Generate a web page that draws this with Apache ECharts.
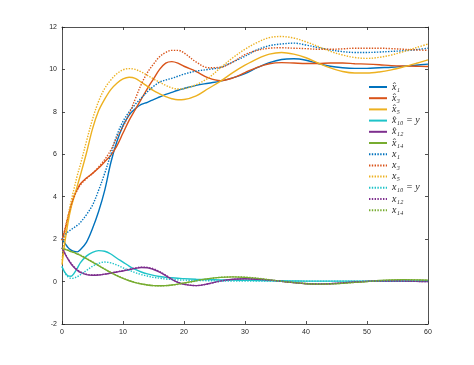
<!DOCTYPE html>
<html>
<head>
<meta charset="utf-8">
<script src="https://cdn.jsdelivr.net/npm/echarts@6/dist/echarts.min.js"></script>
<style>
  html, body { margin: 0; padding: 0; background: #fff; }
  #chart { width: 474px; height: 365px; }
</style>
</head>
<body>
<div id="chart"></div>
<script>
// time samples
var t = [0, 0.5, 1, 1.5, 2, 2.5, 3, 4, 5, 6, 7, 8, 9, 10, 11, 12, 13, 14, 15, 16, 17, 18, 19, 20,
  22, 24, 26, 28, 30, 32, 34, 36, 38, 40, 42, 44, 46, 48, 50, 52, 54, 56, 58, 60]

// estimates (solid)
var xh1 = [2.0, 1.8, 1.6, 1.48, 1.42, 1.4, 1.5, 1.85, 2.5, 3.3, 4.3, 5.6, 6.6, 7.35, 7.85, 8.15, 8.35, 8.45, 8.58, 8.7, 8.82, 8.92, 9.02, 9.1,
  9.25, 9.35, 9.45, 9.6, 9.8, 10.08, 10.32, 10.47, 10.5, 10.43, 10.28, 10.15, 10.08, 10.05, 10.05, 10.08, 10.1, 10.15, 10.2, 10.25]
var xh3 = [1.95, 2.45, 3.05, 3.6, 4.05, 4.35, 4.6, 4.88, 5.1, 5.35, 5.65, 5.95, 6.4, 7.0, 7.6, 8.1, 8.6, 9.1, 9.55, 10.0, 10.3, 10.37, 10.3, 10.15,
  9.9, 9.6, 9.47, 9.6, 9.85, 10.1, 10.27, 10.32, 10.3, 10.28, 10.28, 10.3, 10.3, 10.27, 10.25, 10.22, 10.18, 10.16, 10.15, 10.14]
var xh5 = [0.8, 1.9, 2.8, 3.5, 4.0, 4.5, 5.0, 6.05, 7.2, 8.05, 8.6, 9.05, 9.35, 9.55, 9.63, 9.58, 9.4, 9.2, 9.0, 8.85, 8.72, 8.62, 8.57, 8.58,
  8.75, 9.1, 9.45, 9.85, 10.2, 10.5, 10.72, 10.8, 10.72, 10.55, 10.3, 10.07, 9.9, 9.83, 9.83, 9.88, 9.98, 10.12, 10.28, 10.45]
var xh10 = [0.7, 0.42, 0.27, 0.25, 0.4, 0.62, 0.88, 1.2, 1.38, 1.46, 1.43, 1.3, 1.1, 0.92, 0.73, 0.57, 0.45, 0.36, 0.29, 0.24, 0.2, 0.18, 0.16, 0.14,
  0.11, 0.09, 0.08, 0.07, 0.06, 0.05, 0.04, 0.04, 0.03, 0.02, 0.02, 0.02, 0.02, 0.02, 0.02, 0.02, 0.02, 0.02, 0.02, 0.02]
var xh12 = [1.6, 1.3, 1.05, 0.83, 0.66, 0.53, 0.43, 0.33, 0.3, 0.31, 0.35, 0.4, 0.45, 0.5, 0.56, 0.62, 0.66, 0.65, 0.57, 0.45, 0.28, 0.1, -0.04, -0.13,
  -0.19, -0.1, 0.03, 0.11, 0.13, 0.11, 0.07, 0.01, -0.05, -0.1, -0.12, -0.1, -0.06, -0.02, 0.01, 0.03, 0.03, 0.02, 0.01, 0.0]
var xh14 = [1.58, 1.52, 1.47, 1.41, 1.36, 1.3, 1.24, 1.08, 0.92, 0.75, 0.58, 0.42, 0.28, 0.15, 0.04, -0.05, -0.11, -0.16, -0.19, -0.2, -0.19, -0.16, -0.12, -0.07,
  0.04, 0.14, 0.2, 0.22, 0.2, 0.15, 0.08, 0.01, -0.05, -0.1, -0.12, -0.11, -0.08, -0.04, 0.0, 0.05, 0.08, 0.09, 0.08, 0.06]

// true states (dotted)
var x1 = [2.0, 2.2, 2.35, 2.45, 2.55, 2.65, 2.78, 3.15, 3.6, 4.3, 5.1, 6.0, 6.9, 7.55, 8.0, 8.35, 8.65, 8.95, 9.2, 9.4, 9.5, 9.58, 9.68, 9.78,
  9.92, 10.0, 10.1, 10.35, 10.62, 10.93, 11.12, 11.2, 11.24, 11.15, 11.03, 10.92, 10.84, 10.8, 10.8, 10.82, 10.85, 10.88, 10.93, 11.0]
var x3 = [1.95, 2.5, 3.1, 3.6, 4.0, 4.3, 4.55, 4.85, 5.1, 5.4, 5.75, 6.2, 6.8, 7.3, 7.9, 8.6, 9.3, 9.85, 10.25, 10.6, 10.8, 10.9, 10.9, 10.78,
  10.35, 10.08, 10.1, 10.35, 10.7, 10.9, 11.0, 11.02, 11.0, 10.98, 10.95, 10.95, 10.97, 11.0, 11.0, 11.0, 10.98, 10.95, 10.92, 10.9]
var x5 = [1.0, 2.2, 3.1, 3.8, 4.4, 5.0, 5.5, 6.6, 7.65, 8.5, 9.1, 9.5, 9.8, 9.98, 10.04, 10.0, 9.88, 9.72, 9.55, 9.4, 9.25, 9.13, 9.08, 9.1,
  9.28, 9.6, 10.08, 10.55, 10.95, 11.27, 11.5, 11.55, 11.48, 11.3, 11.08, 10.85, 10.68, 10.56, 10.52, 10.57, 10.68, 10.84, 11.02, 11.2]
var x10 = [0.72, 0.4, 0.22, 0.15, 0.17, 0.23, 0.32, 0.52, 0.72, 0.86, 0.92, 0.88, 0.78, 0.65, 0.53, 0.42, 0.33, 0.26, 0.2, 0.16, 0.12, 0.1, 0.08, 0.07,
  0.05, 0.04, 0.03, 0.03, 0.02, 0.02, 0.02, 0.02, 0.02, 0.02, 0.02, 0.02, 0.02, 0.02, 0.02, 0.02, 0.02, 0.02, 0.02, 0.02]
var x12 = [1.6, 1.32, 1.07, 0.86, 0.69, 0.56, 0.46, 0.35, 0.31, 0.32, 0.35, 0.4, 0.46, 0.52, 0.58, 0.64, 0.68, 0.67, 0.6, 0.47, 0.3, 0.12, -0.03, -0.12,
  -0.19, -0.11, 0.02, 0.1, 0.13, 0.11, 0.07, 0.01, -0.05, -0.09, -0.11, -0.1, -0.06, -0.02, 0.01, 0.03, 0.03, 0.02, 0.01, 0.0]
var x14 = [1.58, 1.53, 1.48, 1.42, 1.37, 1.31, 1.25, 1.09, 0.93, 0.76, 0.59, 0.43, 0.29, 0.16, 0.05, -0.04, -0.11, -0.16, -0.19, -0.2, -0.19, -0.17, -0.13, -0.08,
  0.03, 0.13, 0.2, 0.22, 0.21, 0.16, 0.09, 0.02, -0.04, -0.09, -0.12, -0.11, -0.08, -0.04, 0.0, 0.04, 0.07, 0.09, 0.08, 0.06]

var names = ['x̂₁', 'x̂₃', 'x̂₅', 'x̂₁₀ = y', 'x̂₁₂', 'x̂₁₄', 'x₁', 'x₃', 'x₅', 'x₁₀ = y', 'x₁₂', 'x₁₄']
var values = [xh1, xh3, xh5, xh10, xh12, xh14, x1, x3, x5, x10, x12, x14]
var colors = ['#0072BD', '#D95319', '#EDB120', '#1ec3c8', '#7E2F8E', '#77AC30']

function pairs(ys) {
  return t.map(function (v, i) { return [v, ys[i]] })
}

var series = names.map(function (name, i) {
  return {
    name: name,
    type: 'line',
    data: pairs(values[i]),
    smooth: 0.35,
    symbol: 'none',
    showSymbol: false,
    lineStyle: {
      color: colors[i % 6],
      width: 1.4,
      type: i < 6 ? 'solid' : [1.4, 1.4]
    },
    // no marker in the legend, only the line
    itemStyle: { color: colors[i % 6], opacity: 0 }
  }
})

function axisBase(pos, show) {
  return {
    type: 'value',
    position: pos,
    axisLine: { show: true, onZero: false, lineStyle: { color: '#262626', width: 0.8 } },
    axisTick: { show: true, inside: true, length: 3, lineStyle: { color: '#262626', width: 0.8 } },
    axisLabel: { show: show, fontSize: 7, color: '#262626', fontFamily: 'Liberation Sans', margin: 5 },
    splitLine: { show: false }
  }
}

var xb = axisBase('bottom', true)
var xt = axisBase('top', false)
var yl = axisBase('left', true)
var yr = axisBase('right', false)
;[xb, xt].forEach(function (a) { a.min = 0; a.max = 60; a.interval = 10 })
;[yl, yr].forEach(function (a) { a.min = -2; a.max = 12; a.interval = 2 })

var chart = echarts.init(document.getElementById('chart'))
chart.setOption({
  animation: false,
  grid: { left: 62, right: 46, top: 27, bottom: 41 },
  xAxis: [xb, xt],
  yAxis: [yl, yr],
  legend: {
    orient: 'vertical',
    left: 363,
    top: 77,
    itemWidth: 18,
    itemHeight: 10,
    itemGap: 1.2,
    itemStyle: { opacity: 0 },
    textStyle: {
      fontSize: 10,
      lineHeight: 10,
      color: '#262626',
      fontFamily: 'Liberation Serif',
      fontStyle: 'italic'
    },
    data: names
  },
  series: series
})
</script>
</body>
</html>
